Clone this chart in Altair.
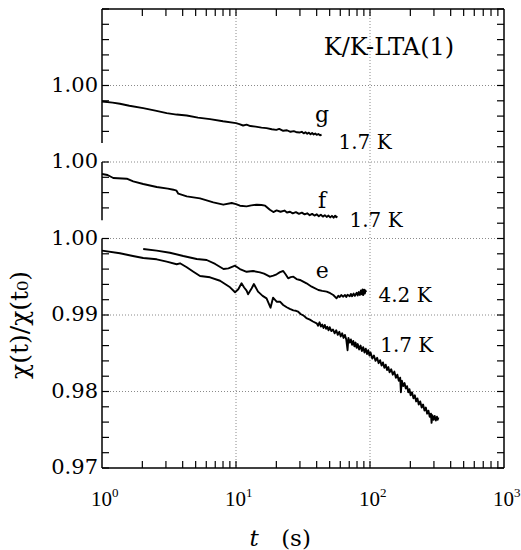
import altair as alt
import pandas as pd

# ---------------- data ----------------
g_t = [1.0, 1.2, 1.36, 1.6, 2.03, 2.5, 3.04, 3.6, 4.29, 5.2, 6.4, 8.0, 10.0, 10.6, 11.3, 12.0,
       12.8, 14.0, 15.5, 16.9, 18.5, 20.0, 21.0, 22.5, 24.0, 25.5, 27.0, 28.5, 30.0, 31.0, 32.0,
       33.0, 34.0, 35.0, 36.0, 37.0, 38.0, 39.0, 40.0, 41.2, 42.4, 43.5]
g_v = [0.99791, 0.99776, 0.99761, 0.99735, 0.99705, 0.99672, 0.99639, 0.99620, 0.99608, 0.99580,
       0.99561, 0.99532, 0.99508, 0.99495, 0.99477, 0.99488, 0.99470, 0.99462, 0.99450, 0.99443,
       0.99428, 0.99420, 0.99432, 0.99408, 0.99415, 0.99395, 0.99403, 0.99388, 0.99386, 0.99395,
       0.99374, 0.99390, 0.99370, 0.99384, 0.99362, 0.99378, 0.99360, 0.99372, 0.99355, 0.99366,
       0.99350, 0.99356]

f_t = [1.0, 1.1, 1.214, 1.53, 1.71, 2.03, 2.56, 3.1, 3.41, 3.6, 3.71, 4.29, 5.39, 6.77, 8.04, 9.29,
       10.0, 10.7, 12.0, 13.0, 14.3, 15.5, 16.5, 17.9, 19.0, 20.1, 21.5, 23.0, 24.0, 25.3, 26.5,
       28.0, 29.5, 31.0, 32.5, 34.0, 35.5, 37.0, 38.5, 40.0, 41.5, 43.0, 44.5, 46.0, 47.5, 49.0,
       50.5, 52.0, 53.5, 55.0, 56.0, 57.0]
f_v = [0.99843, 0.99830, 0.99791, 0.99782, 0.99746, 0.99712, 0.99673, 0.99652, 0.99638, 0.99625,
       0.99586, 0.99550, 0.99524, 0.99472, 0.99442, 0.99464, 0.99450, 0.99429, 0.99420, 0.99433,
       0.99442, 0.99438, 0.99429, 0.99376, 0.99346, 0.99367, 0.99350, 0.99365, 0.99340, 0.99350,
       0.99328, 0.99345, 0.99322, 0.99338, 0.99315, 0.99330, 0.99305, 0.99322, 0.99300, 0.99316,
       0.99292, 0.99310, 0.99286, 0.99305, 0.99282, 0.99300, 0.99276, 0.99296, 0.99272, 0.99298,
       0.99278, 0.99292]

e42_t = [2.03, 2.56, 3.21, 4.04, 5.09, 6.04, 6.99, 8.07, 8.78, 9.84, 10.7, 12.0, 13.4, 15.1, 16.2,
         17.9, 19.0, 20.1, 21.3, 22.5, 23.5, 24.5, 25.6, 26.8, 28.3, 30.0, 33.6, 36.7, 41.2, 44.0,
         47.5, 50.5, 53.2, 56.3, 58.0, 59.5, 61.0, 63.1, 65.0, 66.5, 68.0, 70.6, 72.0, 73.5, 75.5,
         77.0, 79.6, 81.0, 82.5, 84.0, 85.5, 86.9, 88.0, 89.0, 90.5, 91.5, 92.5, 93.5]
e42_v = [0.99863, 0.99841, 0.99814, 0.99771, 0.99732, 0.99719, 0.99667, 0.99601, 0.99610, 0.99644,
         0.99601, 0.99565, 0.99575, 0.99558, 0.99540, 0.99501, 0.99515, 0.99532, 0.99560, 0.99575,
         0.99530, 0.99480, 0.99495, 0.99501, 0.99470, 0.99458, 0.99414, 0.99370, 0.99327, 0.99315,
         0.99305, 0.99285, 0.99261, 0.99218, 0.99250, 0.99235, 0.99260, 0.99240, 0.99262, 0.99235,
         0.99265, 0.99245, 0.99275, 0.99245, 0.99280, 0.99250, 0.99290, 0.99255, 0.99300, 0.99262,
         0.99320, 0.99270, 0.99335, 0.99260, 0.99330, 0.99280, 0.99320, 0.99300]

e17_t = [1.0, 1.36, 1.70, 2.03, 2.56, 3.04, 3.61, 3.82, 4.29, 4.81, 5.39, 6.40, 7.60, 9.03, 9.84,
         10.4, 11.0, 11.5, 12.0, 12.3, 13.1, 13.6, 14.6, 15.8, 16.9, 18.1, 18.9, 20.1, 21.3, 22.5,
         23.9, 25.2, 26.8, 28.0, 29.1, 30.5, 31.8, 33.5, 35.6, 37.5,
         40, 41, 42, 43, 44, 45, 46, 47, 48, 49, 50, 51.5, 53, 54.5, 56, 57.5, 59, 60.5, 62, 63.5,
         65, 66.5, 68, 69, 70.5, 72, 73.5, 75, 76.5, 78, 79.5, 81, 83, 85, 87, 89, 91, 93, 95, 97,
         99, 101, 104, 107, 110, 113, 116, 119, 122, 125, 128, 131, 134, 137, 140, 144, 148, 152,
         156, 160, 164, 168, 170, 173, 177, 181, 185, 189, 193, 197, 201, 206, 211, 216, 221, 226,
         231, 237, 243, 249, 255, 261, 267, 273, 279, 285, 288, 292, 298, 304, 310, 316, 320, 324]
e17_v = [0.99841, 0.99807, 0.99771, 0.99745, 0.99728, 0.99697, 0.99663, 0.99676, 0.99624, 0.99566,
         0.99510, 0.99493, 0.99448, 0.99362, 0.99297, 0.99336, 0.99414, 0.99360, 0.99318, 0.99271,
         0.99349, 0.99405, 0.99305, 0.99250, 0.99218, 0.99095, 0.99226, 0.99174, 0.99174, 0.99131,
         0.99101, 0.99080, 0.99060, 0.99055, 0.99043, 0.99010, 0.98995, 0.98960, 0.98940, 0.98915,
         0.98891, 0.98860, 0.98905, 0.98850, 0.98875, 0.98830, 0.98870, 0.98820, 0.98845, 0.98800,
         0.98840, 0.98790, 0.98810, 0.98760, 0.98800, 0.98740, 0.98780, 0.98720, 0.98760, 0.98700,
         0.98740, 0.98680, 0.98540, 0.98700, 0.98640, 0.98680, 0.98610, 0.98660, 0.98590, 0.98640,
         0.98570, 0.98620, 0.98550, 0.98600, 0.98530, 0.98580, 0.98510, 0.98560, 0.98490, 0.98540,
         0.98470, 0.98510, 0.98430, 0.98470, 0.98400, 0.98440, 0.98370, 0.98410, 0.98340, 0.98380,
         0.98310, 0.98350, 0.98280, 0.98320, 0.98250, 0.98290, 0.98220, 0.98260, 0.98180, 0.98220,
         0.98140, 0.98180, 0.97990, 0.98140, 0.98070, 0.98110, 0.98040, 0.98070, 0.97990, 0.98030,
         0.97950, 0.97990, 0.97910, 0.97950, 0.97870, 0.97910, 0.97830, 0.97870, 0.97790, 0.97830,
         0.97750, 0.97790, 0.97710, 0.97750, 0.97670, 0.97710, 0.97590, 0.97690, 0.97630, 0.97680,
         0.97620, 0.97670, 0.97630, 0.97660]

# vertical offsets of the stacked curves (g shifted +0.02, f +0.01)
offsets = {"g": 0.02, "f": 0.01, "e42": 0.0, "e17": 0.0}

x_tick_values = [1, 10, 100, 1000]
x_tick_base = ["10", "10", "10", "10"]
x_tick_exp = ["0", "1", "2", "3"]
y_tick_values = [0.97, 0.98, 0.99, 1.00, 1.01, 1.02]
y_tick_labels = ["0.97", "0.98", "0.99", "1.00", "1.00", "1.00"]
x_grid = [10, 100]
y_grid = [0.98, 0.99, 1.00, 1.01, 1.02]
x_minor = [m * 10 ** k for k in range(3) for m in range(2, 10)]
y_minor_all = [round(0.97 + 0.002 * i, 3) for i in range(31)]
y_minor_left = [v for v in y_minor_all if v not in (1.002, 1.012)]
# broken left axis: segments (plotted units)
left_seg_lo = [0.97, 1.0024, 1.0125]
left_seg_hi = [1.00, 1.01, 1.03]

ann_letter_t = [43.8, 43.8, 44.0]
ann_letter_y = [1.0152, 1.0040, 0.9948]
ann_letter_txt = ["g", "f", "e"]
ann_temp_t = [91.8, 110.9, 182.5, 187.9]
ann_temp_y = [1.0125, 1.0023, 0.9925, 0.9860]
ann_temp_txt = ["1.7 K", "1.7 K", "4.2 K", "1.7 K"]
title_txt = ["K/K-LTA(1)"]
title_t = [138.6]
title_y = [1.0249]

# ---------------- tables ----------------
rows = []
for key, ts, vs in [("g", g_t, g_v), ("f", f_t, f_v), ("e42", e42_t, e42_v), ("e17", e17_t, e17_v)]:
    for t, v in zip(ts, vs):
        rows.append({"series": key, "t": t, "y": v + offsets[key]})
curves = pd.DataFrame(rows)

FONT = "DejaVu Serif"
TFONT = "Liberation Serif"
W, H = 402, 459

xs = alt.Scale(type="log", domain=[1, 1000], nice=False)
ys = alt.Scale(domain=[0.97, 1.03], nice=False, zero=False)

lines = alt.Chart(curves).mark_line(color="black", strokeWidth=1.9, strokeJoin="round").encode(
    x=alt.X("t:Q", scale=xs, axis=None),
    y=alt.Y("y:Q", scale=ys, axis=None),
    detail="series:N",
)

grid_style = dict(color="#8a8a8a", strokeWidth=1, strokeDash=[1, 2])
hgrid = alt.Chart(pd.DataFrame({"y": y_grid})).mark_rule(**grid_style).encode(
    y=alt.Y("y:Q", scale=ys, axis=None))
vgrid = alt.Chart(pd.DataFrame({"t": x_grid})).mark_rule(**grid_style).encode(
    x=alt.X("t:Q", scale=xs, axis=None))

frame_style = dict(color="black", strokeWidth=1.5)
top_bot = alt.Chart(pd.DataFrame({"y": [0.97, 1.03]})).mark_rule(**frame_style).encode(
    y=alt.Y("y:Q", scale=ys, axis=None))
right_b = alt.Chart(pd.DataFrame({"t": [1000]})).mark_rule(**frame_style).encode(
    x=alt.X("t:Q", scale=xs, axis=None))
left_b = alt.Chart(pd.DataFrame({"t": [1, 1, 1], "lo": left_seg_lo, "hi": left_seg_hi})).mark_rule(
    **frame_style).encode(
    x=alt.X("t:Q", scale=xs, axis=None),
    y=alt.Y("lo:Q", scale=ys, axis=None), y2="hi:Q")

tick_style = dict(color="black", strokeWidth=1.2)
lt = alt.Chart(pd.DataFrame({"y": y_minor_left})).mark_rule(**tick_style).encode(
    y=alt.Y("y:Q", scale=ys, axis=None), x=alt.value(0), x2=alt.value(7))
rt = alt.Chart(pd.DataFrame({"y": y_minor_all})).mark_rule(**tick_style).encode(
    y=alt.Y("y:Q", scale=ys, axis=None), x=alt.value(W - 7), x2=alt.value(W))
bt = alt.Chart(pd.DataFrame({"t": x_minor + x_grid})).mark_rule(**tick_style).encode(
    x=alt.X("t:Q", scale=xs, axis=None), y=alt.value(H - 7), y2=alt.value(H))
tt = alt.Chart(pd.DataFrame({"t": x_minor + x_grid})).mark_rule(**tick_style).encode(
    x=alt.X("t:Q", scale=xs, axis=None), y=alt.value(0), y2=alt.value(7))

# tick labels drawn as text from the label arrays ("10" with a raised exponent)
xlab_df = pd.DataFrame({"t": x_tick_values, "base": x_tick_base, "exp": x_tick_exp})
xlab = alt.Chart(xlab_df).mark_text(
    font=TFONT, fontSize=21, color="black", align="left", baseline="alphabetic", dx=-11).encode(
    x=alt.X("t:Q", scale=xs, axis=None), y=alt.value(H + 38), text="base:N")
xexp = alt.Chart(xlab_df).mark_text(
    font=TFONT, fontSize=13, color="black", align="left", baseline="alphabetic", dx=10).encode(
    x=alt.X("t:Q", scale=xs, axis=None), y=alt.value(H + 29), text="exp:N")
ylab = alt.Chart(pd.DataFrame({"y": y_tick_values, "txt": y_tick_labels})).mark_text(
    font=FONT, fontSize=21, color="black", align="right", baseline="middle").encode(
    y=alt.Y("y:Q", scale=ys, axis=None), x=alt.value(-4), text="txt:N")

letters = alt.Chart(pd.DataFrame({"t": ann_letter_t, "y": ann_letter_y, "txt": ann_letter_txt})).mark_text(
    font=FONT, fontSize=22, color="black", align="center", baseline="alphabetic").encode(
    x=alt.X("t:Q", scale=xs, axis=None), y=alt.Y("y:Q", scale=ys, axis=None), text="txt:N")
temps = alt.Chart(pd.DataFrame({"t": ann_temp_t, "y": ann_temp_y, "txt": ann_temp_txt})).mark_text(
    font=FONT, fontSize=20, color="black", align="center", baseline="middle").encode(
    x=alt.X("t:Q", scale=xs, axis=None), y=alt.Y("y:Q", scale=ys, axis=None), text="txt:N")
label = alt.Chart(pd.DataFrame({"t": title_t, "y": title_y, "txt": title_txt})).mark_text(
    font=FONT, fontSize=24, color="black", align="center", baseline="middle").encode(
    x=alt.X("t:Q", scale=xs, axis=None), y=alt.Y("y:Q", scale=ys, axis=None), text="txt:N")

ytitle = alt.Chart(pd.DataFrame({"txt": ["χ(t)/χ(t₀)"]})).mark_text(
    font=FONT, fontSize=25, color="black", angle=270, align="center", baseline="middle").encode(
    x=alt.value(-82), y=alt.value(316), text="txt:N")
xt1 = alt.Chart(pd.DataFrame({"txt": ["t"]})).mark_text(
    font=FONT, fontSize=23, fontStyle="italic", color="black", align="center",
    baseline="alphabetic").encode(x=alt.value(152), y=alt.value(537), text="txt:N")
xt2 = alt.Chart(pd.DataFrame({"txt": ["(s)"]})).mark_text(
    font=FONT, fontSize=23, color="black", align="center",
    baseline="alphabetic").encode(x=alt.value(194), y=alt.value(537), text="txt:N")

chart = alt.layer(
    hgrid, vgrid, lines, top_bot, right_b, left_b, lt, rt, bt, tt,
    xlab, xexp, ylab, letters, temps, label, ytitle, xt1, xt2
).properties(
    width=W, height=H,
    autosize=alt.AutoSizeParams(type="none"),
    padding={"left": 102, "top": 9, "right": 17, "bottom": 82},
    background="white",
).configure_view(stroke=None)

chart.save("out.html", embed_options={"renderer": "svg", "actions": False})
